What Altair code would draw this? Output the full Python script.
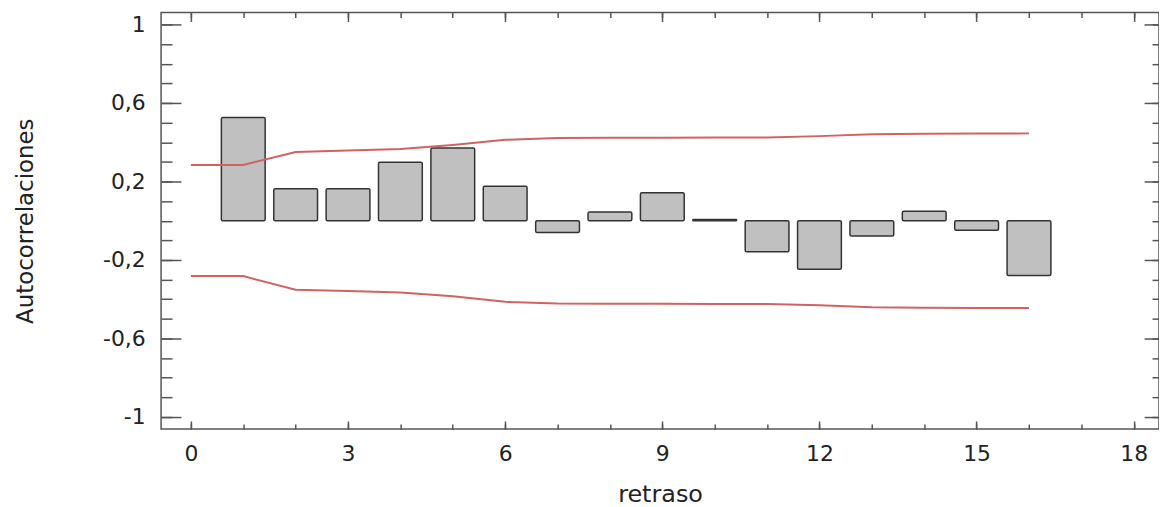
import altair as alt
import pandas as pd

# ---- data ----
lags = [1, 2, 3, 4, 5, 6, 7, 8, 9, 10, 11, 12, 13, 14, 15, 16]
acf = [0.526, 0.163, 0.163, 0.298, 0.371, 0.176, -0.060, 0.045,
       0.143, 0.006, -0.158, -0.247, -0.078, 0.048, -0.048, -0.279]

limit_lags = [0, 1, 2, 3, 4, 5, 6, 7, 8, 9, 10, 11, 12, 13, 14, 15, 16]
upper = [0.284, 0.284, 0.350, 0.358, 0.365, 0.386, 0.412, 0.422, 0.423,
         0.423, 0.424, 0.424, 0.431, 0.441, 0.443, 0.444, 0.445]
lower = [-0.282, -0.282, -0.352, -0.358, -0.366, -0.385, -0.413, -0.422, -0.423,
         -0.423, -0.424, -0.424, -0.431, -0.441, -0.443, -0.444, -0.445]

x_major = [0, 3, 6, 9, 12, 15, 18]
x_minor = [0, 1, 2, 3, 4, 5, 6, 7, 8, 9, 10, 11, 12, 13, 14, 15, 16, 17, 18]
y_major = [-1, -0.6, -0.2, 0.2, 0.6, 1]
y_minor = [-1.0, -0.9, -0.8, -0.7, -0.6, -0.5, -0.4, -0.3, -0.2, -0.1, 0.0,
           0.1, 0.2, 0.3, 0.4, 0.5, 0.6, 0.7, 0.8, 0.9, 1.0]

bars_df = pd.DataFrame({"lag": lags, "acf": acf})
lim_df = pd.DataFrame({"lag": limit_lags, "upper": upper, "lower": lower})

FONT = "DejaVu Sans"
TICK = "#555555"
TXT = "#222222"
RED = "#d26262"

xs = alt.Scale(domain=[-0.569, 18.482], nice=False, zero=False)
ys = alt.Scale(domain=[-1.0608, 1.0608], nice=False, zero=False)


def ax(orient, offset, size, values, **kw):
    base = dict(orient=orient, offset=offset, tickSize=size, values=values,
                domain=False, grid=False, tickColor=TICK, tickWidth=1.5)
    if "labels" not in kw:
        base["labels"] = False
    if "title" not in kw:
        base["title"] = ""
    base.update(kw)
    return alt.Axis(**base)


x_bottom_major = ax("bottom", -8, 8, x_major, labels=True, labelFont=FONT,
                    labelFontSize=22, labelColor=TXT, labelPadding=15,
                    title="retraso", titleFont=FONT, titleFontSize=24,
                    titleFontWeight="normal", titleColor=TXT, titlePadding=18)
y_left_major = ax("left", -20, 20, y_major, labels=True, labelFont=FONT,
                  labelFontSize=22, labelColor=TXT, labelPadding=16,
                  labelExpr="replace(toString(datum.value), '.', ',')",
                  title="Autocorrelaciones", titleFont=FONT, titleFontSize=23,
                  titleFontWeight="normal", titleColor=TXT, titlePadding=65)

bars = alt.Chart(bars_df).transform_calculate(
    x1="datum.lag - 0.418", x2="datum.lag + 0.418", zero="0"
).mark_bar(fill="#c0c0c0", stroke="#333333", strokeWidth=1.5, cornerRadius=1.5).encode(
    x=alt.X("x1:Q", scale=xs, axis=x_bottom_major),
    x2="x2:Q",
    y=alt.Y("acf:Q", scale=ys, axis=y_left_major),
    y2="zero:Q",
)

up = alt.Chart(lim_df).mark_line(color=RED, strokeWidth=2).encode(
    x=alt.X("lag:Q", scale=xs, axis=ax("bottom", -5, 5, x_minor)),
    y=alt.Y("upper:Q", scale=ys, axis=ax("left", -11, 11, y_minor)),
)

lo = alt.Chart(lim_df).mark_line(color=RED, strokeWidth=2).encode(
    x=alt.X("lag:Q", scale=xs, axis=ax("top", -9, 9, x_major)),
    y=alt.Y("lower:Q", scale=ys, axis=ax("right", -15, 15, y_major)),
)

ghost = alt.Chart(lim_df).mark_point(opacity=0).encode(
    x=alt.X("lag:Q", scale=xs, axis=ax("top", -5, 5, x_minor)),
    y=alt.Y("upper:Q", scale=ys, axis=ax("right", -7, 7, y_minor)),
)

chart = alt.layer(bars, up, lo, ghost).resolve_axis(
    x="independent", y="independent"
).properties(
    width=1004, height=419,
    autosize=alt.AutoSizeParams(type="none"),
    padding={"left": 154, "top": 3, "right": 0, "bottom": 80},
    background="white",
).configure_view(stroke="#555555", strokeWidth=1.5)

chart.save("out.html", embed_options={"renderer": "svg", "actions": False})
